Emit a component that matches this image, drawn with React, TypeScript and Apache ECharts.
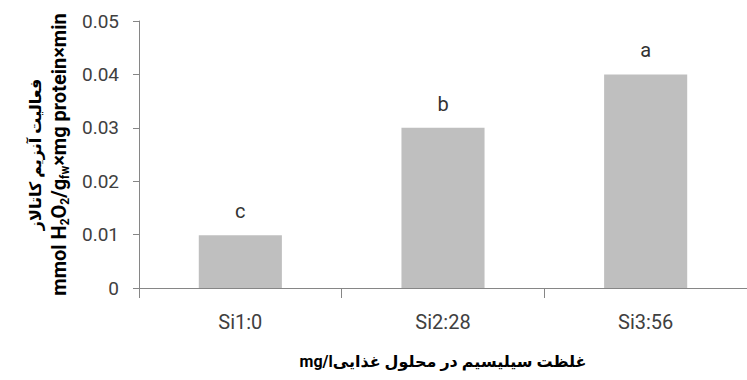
import React, { useEffect, useRef } from "react";
import * as echarts from "echarts";

const categories = ["Si1:0", "Si2:28", "Si3:56"];
const values = [0.0099, 0.03, 0.04];
const letters = ["c", "b", "a"];
const yTitleFa = "فعالیت آنزیم کاتالاز";
const xTitle = "mg/lغلظت سیلیسیم در محلول غذایی";

export default function App() {
  const ref = useRef<HTMLDivElement>(null);
  useEffect(() => {
    if (!ref.current) return;
    const chart = echarts.init(ref.current, null, { renderer: "svg" });
    const font = "Roboto, 'DejaVu Sans', sans-serif";
    chart.setOption({
      animation: false,
      backgroundColor: "#ffffff",
      grid: { left: 139, width: 611, top: 21, height: 267, containLabel: false },
      xAxis: {
        type: "category",
        data: categories,
        axisLine: { lineStyle: { color: "#868686", width: 1 } },
        axisTick: { show: true, alignWithLabel: false, length: 10, lineStyle: { color: "#868686" } },
        axisLabel: { color: "#404040", fontSize: 20, fontFamily: font, margin: 24 },
        name: xTitle,
        nameLocation: "middle",
        nameGap: 65,
        nameTextStyle: { color: "#000", fontSize: 16, fontWeight: "bold", fontFamily: font },
      },
      yAxis: {
        type: "value",
        min: 0,
        max: 0.05,
        interval: 0.01,
        splitLine: { show: false },
        axisLine: { show: true, lineStyle: { color: "#868686", width: 1 } },
        axisTick: { show: true, length: 6, lineStyle: { color: "#868686" } },
        axisLabel: {
          color: "#404040",
          fontSize: 19,
          fontFamily: font,
          margin: 20,
          formatter: (v: number) => (v === 0 ? "0" : v.toFixed(2)),
        },
        name:
          "{p|" + yTitleFa + "}\n{a|mmol H}{s|2}{a|O}{s|2}{a|/g}{s|fw}{a|×mg protein×min}",
        nameLocation: "middle",
        nameRotate: 90,
        nameGap: 68,
        nameTextStyle: {
          color: "#000",
          fontFamily: font,
          rich: {
            p: { fontSize: 16, fontWeight: "bold", fontFamily: font, color: "#000", lineHeight: 24 },
            a: { fontSize: 20, fontWeight: "bold", fontFamily: font, color: "#000", lineHeight: 24 },
            s: { fontSize: 12, fontWeight: "bold", fontFamily: font, color: "#000", verticalAlign: "bottom", lineHeight: 24 },
          },
        },
      },
      series: [
        {
          type: "bar",
          data: values,
          barWidth: "41%",
          itemStyle: { color: "#bfbfbf" },
          label: {
            show: true,
            position: "top",
            distance: 14,
            color: "#333",
            fontSize: 20,
            fontFamily: font,
            formatter: (p: any) => letters[p.dataIndex],
          },
        },
      ],
    });
    return () => chart.dispose();
  }, []);
  return (
    <div
      ref={ref}
      style={{ position: "fixed", left: 0, top: 0, width: 747, height: 380, background: "#fff" }}
    />
  );
}
